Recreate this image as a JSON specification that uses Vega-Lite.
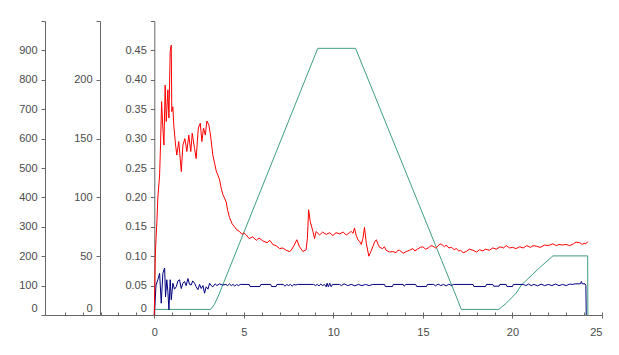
{
  "$schema": "https://vega.github.io/schema/vega-lite/v6.json",
  "width": 557,
  "height": 294,
  "autosize": {"type": "none"},
  "padding": {"left": 45, "top": 21, "right": 17, "bottom": 40},
  "background": "white",
  "config": {
    "view": {"stroke": null},
    "axis": {"labelFont": "Liberation Sans", "labelFontSize": 11, "labelColor": "#4a4a4a", "domainColor": "#666666", "tickColor": "#666666", "grid": false, "title": null}
  },
  "datasets": {
    "green": [
      {"t": 0.05, "v": 19}, {"t": 3.14, "v": 19}, {"t": 3.35, "v": 35}, {"t": 3.6, "v": 68}, {"t": 9.13, "v": 907},
      {"t": 11.24, "v": 907}, {"t": 16.95, "v": 50}, {"t": 17.14, "v": 19}, {"t": 19.24, "v": 19}, {"t": 19.65, "v": 40},
      {"t": 20.2, "v": 74}, {"t": 20.5, "v": 102}, {"t": 21.5, "v": 160}, {"t": 22.26, "v": 201}, {"t": 24.2, "v": 201}, {"t": 24.21, "v": 0}
    ],
    "blue": [
      {"t": 0.0, "v": 0}, {"t": 0.1, "v": 25.5}, {"t": 0.2, "v": 30}, {"t": 0.3, "v": 35.5}, {"t": 0.39, "v": 10}, {"t": 0.48, "v": 35.5},
      {"t": 0.58, "v": 40}, {"t": 0.63, "v": 15.5}, {"t": 0.7, "v": 30}, {"t": 0.76, "v": 20}, {"t": 0.82, "v": 4.5}, {"t": 0.89, "v": 30},
      {"t": 0.95, "v": 13}, {"t": 1.04, "v": 27}, {"t": 1.13, "v": 22}, {"t": 1.23, "v": 24}, {"t": 1.32, "v": 29}, {"t": 1.41, "v": 30},
      {"t": 1.51, "v": 22.5}, {"t": 1.6, "v": 27}, {"t": 1.69, "v": 28.5}, {"t": 1.78, "v": 25}, {"t": 1.88, "v": 31}, {"t": 1.97, "v": 26},
      {"t": 2.06, "v": 25.5}, {"t": 2.15, "v": 29}, {"t": 2.25, "v": 27}, {"t": 2.34, "v": 24}, {"t": 2.44, "v": 21.5}, {"t": 2.53, "v": 26},
      {"t": 2.62, "v": 22.5}, {"t": 2.72, "v": 25}, {"t": 2.81, "v": 18.5}, {"t": 2.9, "v": 24}, {"t": 3.0, "v": 22}, {"t": 3.09, "v": 27},
      {"t": 3.18, "v": 25}, {"t": 3.27, "v": 24}, {"t": 3.4, "v": 26.5}, {"t": 3.5, "v": 25}, {"t": 3.65, "v": 26.5}, {"t": 3.8, "v": 25.5},
      {"t": 4.0, "v": 26}, {"t": 4.1, "v": 25}, {"t": 4.2, "v": 26.5}, {"t": 4.3, "v": 25}, {"t": 4.4, "v": 26}, {"t": 4.5, "v": 24.5},
      {"t": 4.6, "v": 26}, {"t": 4.7, "v": 25}, {"t": 4.8, "v": 26}, {"t": 5.3, "v": 26}, {"t": 5.35, "v": 24.2}, {"t": 5.9, "v": 24.2},
      {"t": 5.95, "v": 26}, {"t": 6.5, "v": 26}, {"t": 6.55, "v": 24.2}, {"t": 6.8, "v": 24.2}, {"t": 6.85, "v": 26}, {"t": 7.2, "v": 26},
      {"t": 7.3, "v": 24.5}, {"t": 7.4, "v": 26}, {"t": 7.5, "v": 25}, {"t": 7.6, "v": 26}, {"t": 7.7, "v": 24.5}, {"t": 7.8, "v": 26},
      {"t": 7.9, "v": 25.5}, {"t": 8.0, "v": 26}, {"t": 8.9, "v": 26}, {"t": 9.0, "v": 25}, {"t": 9.1, "v": 26}, {"t": 9.2, "v": 24.8},
      {"t": 9.3, "v": 26.3}, {"t": 9.4, "v": 25}, {"t": 9.5, "v": 26}, {"t": 9.6, "v": 24}, {"t": 9.65, "v": 27}, {"t": 9.72, "v": 24},
      {"t": 9.8, "v": 27}, {"t": 9.88, "v": 24}, {"t": 9.95, "v": 26}, {"t": 10.35, "v": 26}, {"t": 10.45, "v": 25}, {"t": 10.6, "v": 26.5},
      {"t": 10.8, "v": 25}, {"t": 11.0, "v": 26}, {"t": 11.2, "v": 24.8}, {"t": 11.4, "v": 26}, {"t": 11.6, "v": 25}, {"t": 11.8, "v": 26},
      {"t": 12.0, "v": 25}, {"t": 12.2, "v": 26}, {"t": 12.86, "v": 26}, {"t": 12.9, "v": 24.2}, {"t": 13.3, "v": 24.2}, {"t": 13.35, "v": 26},
      {"t": 13.9, "v": 26}, {"t": 13.95, "v": 24.5}, {"t": 14.05, "v": 26}, {"t": 14.6, "v": 26}, {"t": 14.65, "v": 24.2}, {"t": 15.2, "v": 24.2},
      {"t": 15.25, "v": 26}, {"t": 15.6, "v": 26}, {"t": 15.7, "v": 24.8}, {"t": 15.85, "v": 26.3}, {"t": 16.0, "v": 25}, {"t": 16.15, "v": 26},
      {"t": 16.3, "v": 24.8}, {"t": 16.45, "v": 26.2}, {"t": 16.6, "v": 25}, {"t": 16.7, "v": 26}, {"t": 17.8, "v": 26}, {"t": 17.85, "v": 24.2},
      {"t": 18.5, "v": 24.2}, {"t": 18.55, "v": 26}, {"t": 18.9, "v": 26}, {"t": 18.95, "v": 24.5}, {"t": 19.25, "v": 24.5}, {"t": 19.3, "v": 26},
      {"t": 19.65, "v": 26}, {"t": 19.7, "v": 24.2}, {"t": 20.0, "v": 24.2}, {"t": 20.05, "v": 26}, {"t": 20.6, "v": 26}, {"t": 20.75, "v": 25},
      {"t": 20.9, "v": 26.3}, {"t": 21.05, "v": 25}, {"t": 21.2, "v": 26}, {"t": 21.4, "v": 24.8}, {"t": 21.6, "v": 26.2}, {"t": 21.8, "v": 25},
      {"t": 22.0, "v": 26}, {"t": 22.2, "v": 25}, {"t": 22.4, "v": 26.3}, {"t": 22.6, "v": 25}, {"t": 22.8, "v": 26}, {"t": 23.0, "v": 25},
      {"t": 23.2, "v": 26.3}, {"t": 23.37, "v": 26}, {"t": 23.5, "v": 26.5}, {"t": 23.8, "v": 26.5}, {"t": 23.85, "v": 28.5}, {"t": 23.9, "v": 26.5},
      {"t": 24.05, "v": 26.5}, {"t": 24.1, "v": 25}, {"t": 24.12, "v": 0}
    ],
    "red": [
      {"t": 0.0, "v": 0}, {"t": 0.03, "v": 0.05}, {"t": 0.06, "v": 0.1}, {"t": 0.1, "v": 0.13}, {"t": 0.15, "v": 0.16}, {"t": 0.2, "v": 0.199},
      {"t": 0.3, "v": 0.238}, {"t": 0.35, "v": 0.289}, {"t": 0.41, "v": 0.363}, {"t": 0.48, "v": 0.318}, {"t": 0.54, "v": 0.289}, {"t": 0.61, "v": 0.391},
      {"t": 0.67, "v": 0.329}, {"t": 0.76, "v": 0.383}, {"t": 0.82, "v": 0.335}, {"t": 0.89, "v": 0.448}, {"t": 0.95, "v": 0.459}, {"t": 0.98, "v": 0.346},
      {"t": 1.04, "v": 0.354}, {"t": 1.09, "v": 0.323}, {"t": 1.19, "v": 0.289}, {"t": 1.26, "v": 0.272}, {"t": 1.37, "v": 0.295}, {"t": 1.51, "v": 0.244},
      {"t": 1.6, "v": 0.289}, {"t": 1.71, "v": 0.3}, {"t": 1.82, "v": 0.278}, {"t": 1.93, "v": 0.306}, {"t": 2.04, "v": 0.278}, {"t": 2.12, "v": 0.309},
      {"t": 2.25, "v": 0.283}, {"t": 2.34, "v": 0.266}, {"t": 2.46, "v": 0.318}, {"t": 2.57, "v": 0.326}, {"t": 2.66, "v": 0.295}, {"t": 2.75, "v": 0.318},
      {"t": 2.85, "v": 0.306}, {"t": 2.94, "v": 0.33}, {"t": 3.05, "v": 0.323}, {"t": 3.14, "v": 0.306}, {"t": 3.27, "v": 0.272}, {"t": 3.37, "v": 0.258},
      {"t": 3.46, "v": 0.245}, {"t": 3.55, "v": 0.238}, {"t": 3.65, "v": 0.23}, {"t": 3.75, "v": 0.214}, {"t": 3.83, "v": 0.205}, {"t": 3.92, "v": 0.199},
      {"t": 4.02, "v": 0.192}, {"t": 4.1, "v": 0.178}, {"t": 4.2, "v": 0.166}, {"t": 4.35, "v": 0.155}, {"t": 4.48, "v": 0.15}, {"t": 4.6, "v": 0.145},
      {"t": 4.76, "v": 0.142}, {"t": 4.9, "v": 0.137}, {"t": 5.0, "v": 0.14}, {"t": 5.14, "v": 0.136}, {"t": 5.3, "v": 0.13}, {"t": 5.5, "v": 0.133},
      {"t": 5.7, "v": 0.127}, {"t": 5.85, "v": 0.131}, {"t": 6.06, "v": 0.126}, {"t": 6.3, "v": 0.123}, {"t": 6.45, "v": 0.127}, {"t": 6.62, "v": 0.12},
      {"t": 6.8, "v": 0.118}, {"t": 7.0, "v": 0.113}, {"t": 7.18, "v": 0.114}, {"t": 7.37, "v": 0.11}, {"t": 7.55, "v": 0.108}, {"t": 7.65, "v": 0.11},
      {"t": 7.8, "v": 0.118}, {"t": 7.96, "v": 0.128}, {"t": 8.11, "v": 0.116}, {"t": 8.3, "v": 0.108}, {"t": 8.48, "v": 0.111}, {"t": 8.55, "v": 0.13},
      {"t": 8.62, "v": 0.179}, {"t": 8.71, "v": 0.159}, {"t": 8.86, "v": 0.142}, {"t": 8.95, "v": 0.13}, {"t": 9.04, "v": 0.142}, {"t": 9.23, "v": 0.136},
      {"t": 9.4, "v": 0.141}, {"t": 9.6, "v": 0.137}, {"t": 9.8, "v": 0.14}, {"t": 9.97, "v": 0.135}, {"t": 10.15, "v": 0.14}, {"t": 10.35, "v": 0.138},
      {"t": 10.55, "v": 0.141}, {"t": 10.72, "v": 0.136}, {"t": 10.9, "v": 0.14}, {"t": 11.0, "v": 0.142}, {"t": 11.1, "v": 0.139}, {"t": 11.18, "v": 0.148},
      {"t": 11.28, "v": 0.135}, {"t": 11.37, "v": 0.128}, {"t": 11.47, "v": 0.125}, {"t": 11.56, "v": 0.12}, {"t": 11.65, "v": 0.13}, {"t": 11.74, "v": 0.149},
      {"t": 11.84, "v": 0.122}, {"t": 11.98, "v": 0.1}, {"t": 12.1, "v": 0.108}, {"t": 12.2, "v": 0.116}, {"t": 12.3, "v": 0.124}, {"t": 12.4, "v": 0.128},
      {"t": 12.5, "v": 0.12}, {"t": 12.58, "v": 0.115}, {"t": 12.75, "v": 0.113}, {"t": 12.85, "v": 0.116}, {"t": 12.95, "v": 0.11}, {"t": 13.15, "v": 0.107},
      {"t": 13.32, "v": 0.108}, {"t": 13.5, "v": 0.106}, {"t": 13.6, "v": 0.11}, {"t": 13.7, "v": 0.11}, {"t": 13.9, "v": 0.105}, {"t": 14.07, "v": 0.108},
      {"t": 14.25, "v": 0.11}, {"t": 14.44, "v": 0.113}, {"t": 14.55, "v": 0.109}, {"t": 14.7, "v": 0.112}, {"t": 14.85, "v": 0.115}, {"t": 15.0, "v": 0.116},
      {"t": 15.15, "v": 0.112}, {"t": 15.3, "v": 0.114}, {"t": 15.45, "v": 0.118}, {"t": 15.56, "v": 0.117}, {"t": 15.7, "v": 0.114}, {"t": 15.8, "v": 0.116},
      {"t": 15.95, "v": 0.121}, {"t": 16.05, "v": 0.12}, {"t": 16.2, "v": 0.116}, {"t": 16.3, "v": 0.119}, {"t": 16.45, "v": 0.114}, {"t": 16.6, "v": 0.115},
      {"t": 16.75, "v": 0.111}, {"t": 16.86, "v": 0.113}, {"t": 17.0, "v": 0.109}, {"t": 17.1, "v": 0.11}, {"t": 17.25, "v": 0.106}, {"t": 17.42, "v": 0.108},
      {"t": 17.6, "v": 0.112}, {"t": 17.8, "v": 0.11}, {"t": 18.0, "v": 0.107}, {"t": 18.16, "v": 0.111}, {"t": 18.35, "v": 0.109}, {"t": 18.5, "v": 0.112},
      {"t": 18.7, "v": 0.11}, {"t": 18.9, "v": 0.114}, {"t": 19.1, "v": 0.112}, {"t": 19.3, "v": 0.116}, {"t": 19.5, "v": 0.114}, {"t": 19.65, "v": 0.118},
      {"t": 19.85, "v": 0.114}, {"t": 20.0, "v": 0.115}, {"t": 20.2, "v": 0.113}, {"t": 20.4, "v": 0.116}, {"t": 20.6, "v": 0.114}, {"t": 20.8, "v": 0.118},
      {"t": 21.0, "v": 0.115}, {"t": 21.15, "v": 0.118}, {"t": 21.33, "v": 0.117}, {"t": 21.55, "v": 0.115}, {"t": 21.8, "v": 0.119}, {"t": 22.0, "v": 0.118},
      {"t": 22.26, "v": 0.121}, {"t": 22.45, "v": 0.118}, {"t": 22.6, "v": 0.12}, {"t": 22.8, "v": 0.119}, {"t": 23.0, "v": 0.12}, {"t": 23.2, "v": 0.118},
      {"t": 23.4, "v": 0.121}, {"t": 23.55, "v": 0.124}, {"t": 23.75, "v": 0.123}, {"t": 23.9, "v": 0.12}, {"t": 24.0, "v": 0.122}, {"t": 24.1, "v": 0.121},
      {"t": 24.21, "v": 0.125}
    ]
  },
  "resolve": {"scale": {"y": "independent"}, "axis": {"y": "independent", "x": "independent"}},
  "layer": [
    {
      "data": {"name": "green"},
      "mark": {"type": "line", "color": "#3f9f7f", "strokeWidth": 1},
      "encoding": {
        "x": {"field": "t", "type": "quantitative", "scale": {"domain": [-6.1, 25], "nice": false, "zero": false},
          "axis": {"orient": "bottom", "values": [-5,-4,-3,-2,-1,0,1,2,3,4,5,6,7,8,9,10,11,12,13,14,15,16,17,18,19,20,21,22,23,24,25], "tickSize": -3, "labels": false, "domain": true}},
        "y": {"field": "v", "type": "quantitative", "scale": {"domain": [0, 1000], "nice": false},
          "axis": {"orient": "left", "offset": 0, "values": [0,100,200,300,400,500,600,700,800,900,1000], "tickSize": 4, "labelPadding": 4,
            "labelExpr": "datum.value >= 1000 ? '' : datum.label",
            "labelOffset": {"condition": {"test": "datum.value == 0", "value": -7}, "value": 0}}}
      }
    },
    {
      "data": {"name": "blue"},
      "mark": {"type": "line", "color": "#000080", "strokeWidth": 1},
      "encoding": {
        "x": {"field": "t", "type": "quantitative",
          "axis": {"orient": "bottom", "values": [0,5,10,15,20,25], "tickSize": 3, "labelPadding": 8, "domain": false}},
        "y": {"field": "v", "type": "quantitative", "scale": {"domain": [0, 250], "nice": false},
          "axis": {"orient": "left", "offset": -55, "values": [0,50,100,150,200,250], "tickSize": 4, "labelPadding": 4,
            "labelExpr": "datum.value >= 250 ? '' : datum.label",
            "labelOffset": {"condition": {"test": "datum.value == 0", "value": -7}, "value": 0}}}
      }
    },
    {
      "data": {"name": "red"},
      "mark": {"type": "line", "color": "#ff0000", "strokeWidth": 1},
      "encoding": {
        "x": {"field": "t", "type": "quantitative", "axis": null},
        "y": {"field": "v", "type": "quantitative", "scale": {"domain": [0, 0.5], "nice": false},
          "axis": {"orient": "left", "offset": -109.3, "values": [0,0.05,0.1,0.15,0.2,0.25,0.3,0.35,0.4,0.45,0.5], "tickSize": 4, "labelPadding": 4,
            "labelExpr": "datum.value >= 0.5 ? '' : datum.value == 0 ? '0' : format(datum.value, '.2f')",
            "labelOffset": {"condition": {"test": "datum.value == 0", "value": -7}, "value": 0}}}
      }
    }
  ]
}
